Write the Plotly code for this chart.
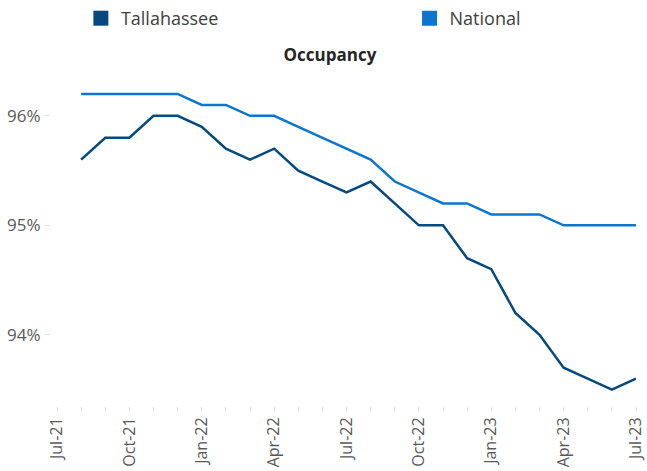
import plotly.graph_objects as go

months = ["Jul-21", "Aug-21", "Sep-21", "Oct-21", "Nov-21", "Dec-21",
          "Jan-22", "Feb-22", "Mar-22", "Apr-22", "May-22", "Jun-22",
          "Jul-22", "Aug-22", "Sep-22", "Oct-22", "Nov-22", "Dec-22",
          "Jan-23", "Feb-23", "Mar-23", "Apr-23", "May-23", "Jun-23", "Jul-23"]
data_months = months[1:]

tallahassee = [95.6, 95.8, 95.8, 96.0, 96.0, 95.9, 95.7, 95.6, 95.7, 95.5, 95.4, 95.3,
               95.4, 95.2, 95.0, 95.0, 94.7, 94.6, 94.2, 94.0, 93.7, 93.6, 93.5, 93.6]
national = [96.2, 96.2, 96.2, 96.2, 96.2, 96.1, 96.1, 96.0, 96.0, 95.9, 95.8, 95.7,
            95.6, 95.4, 95.3, 95.2, 95.2, 95.1, 95.1, 95.1, 95.0, 95.0, 95.0, 95.0]
y_ticks = [94, 95, 96]
y_tick_labels = ["94%", "95%", "96%"]

c_tal = "#05497f"
c_nat = "#0a76d0"
font = "Open Sans"

fig = go.Figure()
fig.add_trace(go.Scatter(x=data_months, y=national, mode="lines", name="National",
                         line=dict(color=c_nat, width=2.5), showlegend=False))
fig.add_trace(go.Scatter(x=data_months, y=tallahassee, mode="lines", name="Tallahassee",
                         line=dict(color=c_tal, width=2.5), showlegend=False))
# legend entries (square swatches)
fig.add_trace(go.Scatter(x=[None], y=[None], mode="markers", name="Tallahassee",
                         legend="legend",
                         marker=dict(symbol="square", size=15, color=c_tal)))
fig.add_trace(go.Scatter(x=[None], y=[None], mode="markers", name="National",
                         legend="legend2",
                         marker=dict(symbol="square", size=15, color=c_nat)))

legend_style = dict(orientation="h", xref="container", yref="container",
                    y=1.0, xanchor="left", yanchor="top", itemwidth=30,
                    font=dict(size=18, color="#404040", family=font))

fig.update_layout(
    width=647, height=471,
    margin=dict(l=51, r=11, t=83, b=65),
    paper_bgcolor="white", plot_bgcolor="white",
    font=dict(family=font, color="#595959"),
    title=dict(text="<b>Occupancy</b>", x=0.51, xanchor="center", xref="container",
               y=1 - 55 / 471, yref="container", yanchor="middle",
               font=dict(size=17, color="#262626", family=font)),
    legend=dict(x=0.125, **legend_style),
    legend2=dict(x=0.633, **legend_style),
    showlegend=True,
)
fig.update_xaxes(type="category", categoryorder="array", categoryarray=months,
                 range=[-0.25, 24], tickmode="array", tickvals=months,
                 ticktext=[m if i % 3 == 0 else "" for i, m in enumerate(months)],
                 tickangle=-90, ticks="outside", ticklen=4, tickcolor="#e3e3e3",
                 showgrid=False, showline=False, zeroline=False, automargin=False,
                 tickfont=dict(size=16, color="#595959", family=font))
fig.update_yaxes(range=[93.35, 96.3], tickmode="array", tickvals=y_ticks,
                 ticktext=y_tick_labels,
                 ticks="outside", ticklen=6, tickcolor="#e3e3e3",
                 showgrid=False, showline=False, zeroline=False, automargin=False,
                 tickfont=dict(size=17, color="#595959", family=font))

fig.write_html("out.html")
